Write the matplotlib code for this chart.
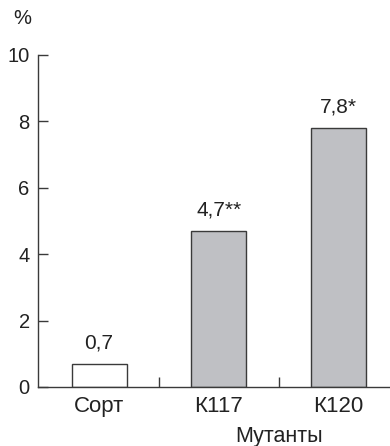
import matplotlib.pyplot as plt

plt.rcParams["font.family"] = ["Liberation Sans", "DejaVu Sans"]

categories = ["Сорт", "К117", "К120"]
values = [0.7, 4.7, 7.8]
value_labels = ["0,7", "4,7**", "7,8*"]
yticks = [0, 2, 4, 6, 8, 10]

fig = plt.figure(figsize=(3.9, 4.46), dpi=100)
ax = fig.add_axes([38 / 390, 59 / 446, 352 / 390, 332 / 446])

edge = "#3a3a3a"
txt = "#222222"
colors = ["white", "#bfc0c4", "#bfc0c4"]
x = list(range(len(categories)))
bars = ax.bar(x, values, width=0.46, color=colors, edgecolor=edge, linewidth=1.0)

for bar, lab in zip(bars, value_labels):
    ax.annotate(lab, (bar.get_x() + bar.get_width() / 2, bar.get_height()),
                xytext=(0, 8), textcoords="offset points",
                ha="center", va="bottom", fontsize=15, color=txt)

ax.set_xlim(-0.51, 2.43)
ax.set_ylim(0, 10)
ax.set_yticks(yticks)
ax.set_yticklabels([str(t) for t in yticks], fontsize=14.5, color=txt)
ax.set_xticks([0.5, 1.5])
ax.set_xticklabels([])
ax.tick_params(axis="y", direction="in", length=7, width=1.0, color=edge, pad=6)
ax.tick_params(axis="x", direction="in", length=7, width=1.0, color=edge)

# labels placed below the axis (axes-fraction y, baseline aligned)
trans = ax.get_xaxis_transform()
for i, c in enumerate(categories):
    ax.text(i, -0.0753, c, ha="center", va="baseline", fontsize=16, color=txt,
            transform=trans)

ax.text(1.5, -0.1657, "Мутанты", ha="center", va="baseline", fontsize=15.5,
        color=txt, transform=trans)
fig.text(22 / 390, 1 - 18 / 446, "%", ha="center", va="center", fontsize=14.5, color=txt)

for s in ["top", "right"]:
    ax.spines[s].set_visible(False)
for s in ["left", "bottom"]:
    ax.spines[s].set_color(edge)
    ax.spines[s].set_linewidth(1.0)

fig.savefig("out.png", dpi=100)
